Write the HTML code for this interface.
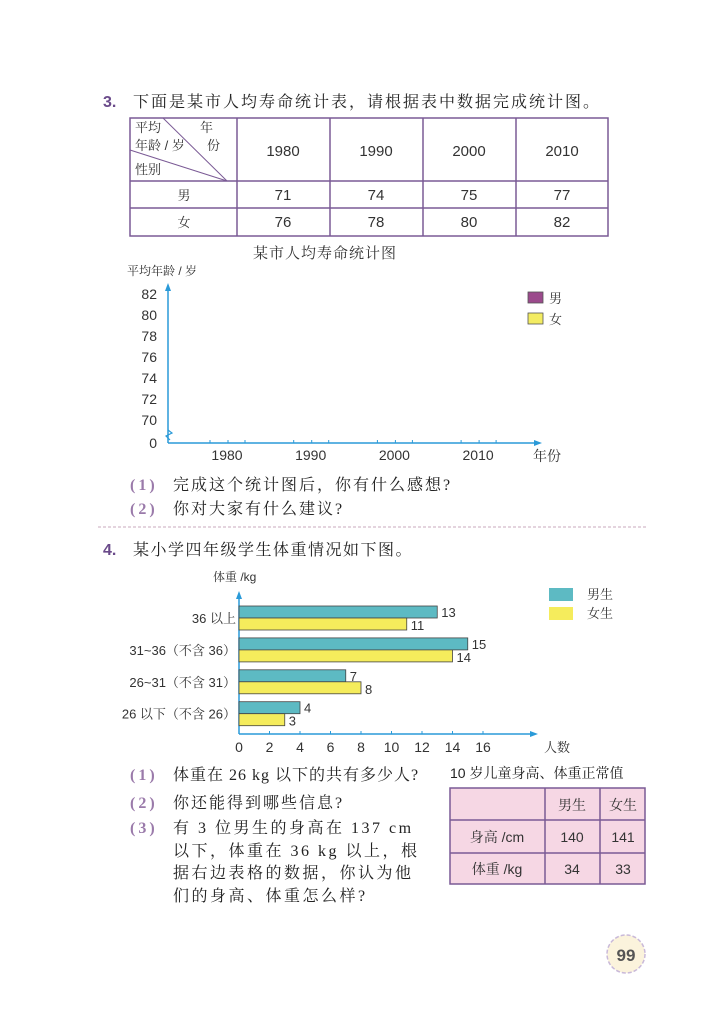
<!DOCTYPE html>
<html><head><meta charset="utf-8">
<style>
body{margin:0;width:723px;height:1011px;background:#fff;position:relative;overflow:hidden;font-family:"Liberation Sans","Noto Serif CJK SC","Noto Sans CJK SC",sans-serif;color:#222}
.t{position:absolute;white-space:nowrap;font-size:16px;font-family:"Liberation Serif","Noto Serif CJK SC",serif;letter-spacing:2px}
.num{color:#6a4a8a;font-weight:bold;font-family:"Liberation Sans",sans-serif;letter-spacing:0}
.q{color:#9a7aaa;font-weight:bold;letter-spacing:3px;display:inline-block;width:43px}
.ind{display:inline-block;width:43px}
svg text{font-family:"Liberation Sans","Noto Serif CJK SC",sans-serif}
</style></head><body>
<div class="t" style="left:103px;top:89px;font-size:16px;letter-spacing:2px"><span class="num" style="display:inline-block;width:30px">3.</span>下面是某市人均寿命统计表，请根据表中数据完成统计图。</div>

<svg width="723" height="1011" style="position:absolute;left:0;top:0">
<g stroke="#7a5a95" stroke-width="1.5" fill="none">
<rect x="130" y="118" width="478" height="118"/>
<line x1="130" y1="181" x2="608" y2="181"/><line x1="130" y1="208" x2="608" y2="208"/>
<line x1="237" y1="118" x2="237" y2="236"/><line x1="330" y1="118" x2="330" y2="236"/>
<line x1="423" y1="118" x2="423" y2="236"/><line x1="516" y1="118" x2="516" y2="236"/>
<line x1="163" y1="118" x2="227" y2="181" stroke-width="1"/><line x1="130" y1="150" x2="227" y2="181" stroke-width="1"/>
</g>
<g font-size="13" fill="#333" font-family="Liberation Serif,Noto Serif CJK SC,serif">
<text x="135" y="132">平均</text><text x="200" y="132">年</text>
<text x="135" y="150">年龄 / 岁</text><text x="207" y="150">份</text>
<text x="135" y="174">性别</text>
</g>
<g font-size="15" fill="#333" text-anchor="middle">
<text x="283" y="156">1980</text><text x="376" y="156">1990</text><text x="469" y="156">2000</text><text x="562" y="156">2010</text>
<text x="184" y="200" font-size="13">男</text><text x="283" y="200">71</text><text x="376" y="200">74</text><text x="469" y="200">75</text><text x="562" y="200">77</text>
<text x="184" y="227" font-size="13">女</text><text x="283" y="227">76</text><text x="376" y="227">78</text><text x="469" y="227">80</text><text x="562" y="227">82</text>
</g>
<text x="325" y="258" font-size="15" text-anchor="middle" fill="#333" letter-spacing="1">某市人均寿命统计图</text>
<text x="127" y="275" font-size="12" fill="#333">平均年龄 / 岁</text>
<g id="lifeChart"></g>
<line x1="98" y1="527" x2="648" y2="527" stroke="#c9a9bd" stroke-dasharray="3,2"/>
<text x="213" y="581" font-size="12" fill="#333">体重 /kg</text>
<g id="weightChart"></g>
<text x="450" y="778" font-size="14" fill="#222">10 岁儿童身高、体重正常值</text>
<g>
<rect x="450" y="788" width="195" height="96" fill="#f6d7e4" stroke="#7a5a95" stroke-width="1.5"/>
<g stroke="#7a5a95" stroke-width="1.5"><line x1="450" y1="820" x2="645" y2="820"/><line x1="450" y1="853" x2="645" y2="853"/>
<line x1="545" y1="788" x2="545" y2="884"/><line x1="600" y1="788" x2="600" y2="884"/></g>
<g font-size="14" fill="#333" text-anchor="middle">
<text x="572" y="810">男生</text><text x="623" y="810">女生</text>
<text x="497" y="842">身高 /cm</text><text x="572" y="842">140</text><text x="623" y="842">141</text>
<text x="497" y="874">体重 /kg</text><text x="572" y="874">34</text><text x="623" y="874">33</text>
</g></g>
<g>
<circle cx="626" cy="954" r="19" fill="#fbf3dc" stroke="#c9b9d9" stroke-width="1.5" stroke-dasharray="4,2"/>
<text x="626" y="961" font-size="17" font-weight="bold" text-anchor="middle" fill="#555" font-family="Liberation Serif,serif">99</text>
</g>
</svg>

<div class="t" style="left:130px;top:472px"><span class="q">(1)</span>完成这个统计图后，你有什么感想?</div>
<div class="t" style="left:130px;top:496px"><span class="q">(2)</span>你对大家有什么建议?</div>
<div class="t" style="left:103px;top:537px;letter-spacing:1.5px"><span class="num" style="display:inline-block;width:30px">4.</span>某小学四年级学生体重情况如下图。</div>
<div class="t" style="left:130px;top:762px;letter-spacing:1px"><span class="q">(1)</span>体重在 26 kg 以下的共有多少人?</div>
<div class="t" style="left:130px;top:790px"><span class="q">(2)</span>你还能得到哪些信息?</div>
<div class="t" style="left:130px;top:818px;line-height:22.5px;letter-spacing:2.5px"><span class="q">(3)</span>有 3 位男生的身高在 137 cm<br><span class="ind"></span>以下，体重在 36 kg 以上，根<br><span class="ind"></span>据右边表格的数据，你认为他<br><span class="ind"></span>们的身高、体重怎么样?</div>

<script>
const NS='http://www.w3.org/2000/svg';
const lifeTicks=[70,72,74,76,78,80,82];
const lifeYears=['1980','1990','2000','2010'];
const wCategories=['36 以上','31~36（不含 36）','26~31（不含 31）','26 以下（不含 26）'];
const wBoys=[13,15,7,4];
const wGirls=[11,14,8,3];
const wTicks=[0,2,4,6,8,10,12,14,16];

function mk(parent,tag,attrs,text){const e=document.createElementNS(NS,tag);for(const k in attrs)e.setAttribute(k,attrs[k]);if(text!==undefined)e.textContent=text;parent.appendChild(e);return e;}
const blue='#2a9ad8';

const L=document.getElementById('lifeChart');


const ly=v=>420-(v-70)*10.5;
const lx=i=>227+i*83.7;
mk(L,'line',{x1:168,y1:443,x2:168,y2:288,stroke:blue,'stroke-width':1.5});
mk(L,'polygon',{points:'168,283 165,291 171,291',fill:blue});
mk(L,'polyline',{points:'168,430 172,433 166,436 170,440',fill:'none',stroke:blue,'stroke-width':1.2});
mk(L,'line',{x1:168,y1:443,x2:536,y2:443,stroke:blue,'stroke-width':1.5});
mk(L,'polygon',{points:'542,443 534,440 534,446',fill:blue});
lifeTicks.forEach(v=>{
 const t=mk(L,'text',{x:157,y:ly(v)+5,'font-size':14,'text-anchor':'end',fill:'#333'},v);
 
 
});
mk(L,'text',{x:157,y:448,'font-size':14,'text-anchor':'end',fill:'#333'},'0');
lifeYears.forEach((y,i)=>{
 const x=lx(i);
 [-17,1,18].forEach(d=>mk(L,'line',{x1:x+d,y1:440,x2:x+d,y2:443,stroke:blue}));
 const t=mk(L,'text',{x:x,y:460,'font-size':14,'text-anchor':'middle',fill:'#333'},y);
 
 
});
mk(L,'text',{x:533,y:461,'font-size':14,fill:'#333'},'年份');
const lg1=mk(L,'rect',{x:528,y:292,width:15,height:11,fill:'#9b4a8c',stroke:'#555','stroke-width':.8});


mk(L,'text',{x:549,y:303,'font-size':13,fill:'#333'},'男');
const lg2=mk(L,'rect',{x:528,y:313,width:15,height:11,fill:'#f3ec62',stroke:'#555','stroke-width':.8});


mk(L,'text',{x:549,y:324,'font-size':13,fill:'#333'},'女');

const W=document.getElementById('weightChart');


const wx=v=>239+v*15.25;
const wy=i=>606+i*31.9;
mk(W,'line',{x1:239,y1:734,x2:239,y2:597,stroke:blue,'stroke-width':1.5});
mk(W,'polygon',{points:'239,591 236,599 242,599',fill:blue});
mk(W,'line',{x1:239,y1:734,x2:532,y2:734,stroke:blue,'stroke-width':1.5});
mk(W,'polygon',{points:'538,734 530,731 530,737',fill:blue});
wTicks.forEach(v=>{
 mk(W,'line',{x1:wx(v),y1:731,x2:wx(v),y2:734,stroke:blue});
 const t=mk(W,'text',{x:wx(v),y:752,'font-size':14,'text-anchor':'middle',fill:'#333'},v);
 
 
});
mk(W,'text',{x:544,y:752,'font-size':13,fill:'#333'},'人数');
wCategories.forEach((c,i)=>{
 const y=wy(i);
 const t=mk(W,'text',{x:236,y:y+17,'font-size':13,'text-anchor':'end',fill:'#333'},c);
 
 
 const b=mk(W,'rect',{x:239,y:y,width:wx(wBoys[i])-239,height:12,fill:'#5dbac3',stroke:'#444','stroke-width':.8});
 
 
 mk(W,'text',{x:wx(wBoys[i])+4,y:y+11,'font-size':13,fill:'#333'},wBoys[i]);
 const g=mk(W,'rect',{x:239,y:y+12,width:wx(wGirls[i])-239,height:12,fill:'#f5ec5c',stroke:'#444','stroke-width':.8});
 
 
 mk(W,'text',{x:wx(wGirls[i])+4,y:y+24,'font-size':13,fill:'#333'},wGirls[i]);
});
const lb=mk(W,'rect',{x:549,y:588,width:24,height:13,fill:'#5dbac3'});


mk(W,'text',{x:587,y:599,'font-size':13,fill:'#333'},'男生');
const lgl=mk(W,'rect',{x:549,y:607,width:24,height:13,fill:'#f5ec5c'});


mk(W,'text',{x:587,y:618,'font-size':13,fill:'#333'},'女生');
</script>
</body></html>
